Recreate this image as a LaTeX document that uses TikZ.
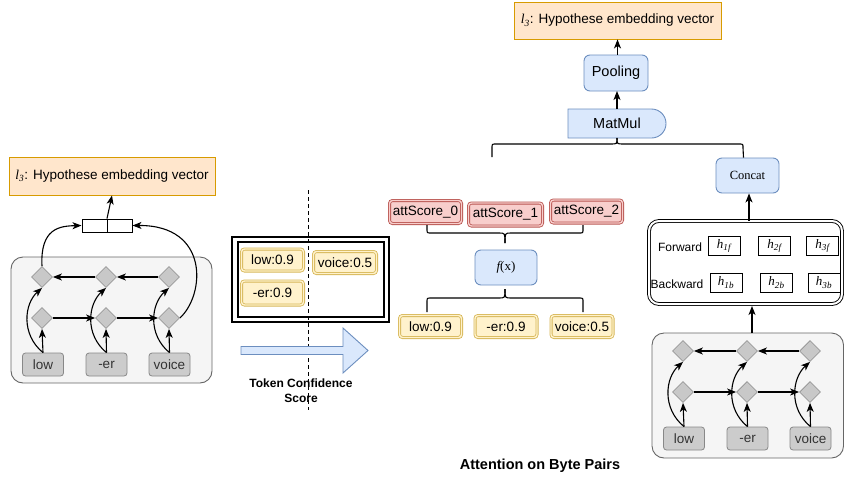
\documentclass[tikz,border=0pt]{standalone}
\usepackage{fontspec}
\setmainfont{Liberation Sans}
\newfontfamily\tnr{Liberation Serif}
\usetikzlibrary{shapes.geometric,arrows.meta}
\newcommand{\fsz}[2]{\fontsize{#1}{#2}\selectfont}
\definecolor{orfill}{HTML}{FFE6CC}
\definecolor{ordraw}{HTML}{D79B00}
\definecolor{blfill}{HTML}{DAE8FC}
\definecolor{bldraw}{HTML}{6C8EBF}
\definecolor{rdfill}{HTML}{F8CECC}
\definecolor{rddraw}{HTML}{B85450}
\definecolor{ylfill}{HTML}{FFF2CC}
\definecolor{yldraw}{HTML}{D6B656}
\definecolor{gyfill}{HTML}{F5F5F5}
\definecolor{gydraw}{HTML}{666666}
\definecolor{dmfill}{HTML}{C8C8C8}
\definecolor{dmdraw}{HTML}{999999}
\definecolor{tkfill}{HTML}{CCCCCC}
\definecolor{tkdraw}{HTML}{888888}
\definecolor{tktext}{HTML}{333333}
\tikzset{
 arr/.style={-{Stealth[length=9pt,width=7pt,inset=2.5pt]}, line width=1.1pt},
 ln/.style={line width=1.1pt},
 orbox/.style={draw=ordraw, fill=orfill, line width=0.9pt, inner sep=0, font=\fsz{13.5}{16}},
 blbox/.style={draw=bldraw, fill=blfill, line width=0.9pt, rounded corners=6, inner sep=0},
 ybox/.style={draw=yldraw, double=ylfill, double distance=1.4pt, fill=ylfill, line width=0.8pt, rounded corners=3, minimum width=62, minimum height=22, inner sep=0, font=\fsz{13.5}{16}},
 rbox/.style={draw=rddraw, double=rdfill, double distance=1.4pt, fill=rdfill, line width=0.8pt, rounded corners=3, minimum width=72, minimum height=23, inner sep=0, font=\fsz{13.5}{16}},
 tok/.style={draw=tkdraw, fill=tkfill, rounded corners=3, minimum width=41, minimum height=23, inner sep=0, line width=0.8pt, text=tktext, font=\fsz{13.5}{16}},
 dia/.style={diamond, draw=dmdraw, fill=dmfill, minimum width=21, minimum height=21, inner sep=0, line width=0.8pt},
 gybox/.style={draw=gydraw, fill=gyfill, rounded corners=12, line width=0.9pt},
 hbox/.style={draw, line width=0.8pt, minimum width=32, minimum height=19, inner sep=0, font=\tnr\itshape\fsz{13}{15}},
 lbl/.style={inner sep=0, font=\fsz{12}{14}},
}
\newcommand{\bilstmblock}[3]{%
\begin{scope}[shift={(#2,#3)}]
 \node[tok] (#1t1) at (43,364.5) {low};
 \node[tok] (#1t2) at (106.5,364.5) {-er};
 \node[tok] (#1t3) at (169.5,364.5) {voice};
 \node[dia] (#1b1) at (42,318) {};
 \node[dia] (#1b2) at (106,318) {};
 \node[dia] (#1b3) at (169,318) {};
 \node[dia] (#1u1) at (42,277) {};
 \node[dia] (#1u2) at (106,277) {};
 \node[dia] (#1u3) at (169,277) {};
 \draw[arr] (#1t1.north) -- (#1b1.south);
 \draw[arr] (#1t2.north) -- (#1b2.south);
 \draw[arr] (#1t3.north) -- (#1b3.south);
 \draw[arr] (#1t1.north) .. controls +(-22,-18) and +(-18,16) .. (#1u1.south);
 \draw[arr] (#1t2.north) .. controls +(-22,-18) and +(-18,16) .. (#1u2.south);
 \draw[arr] (#1t3.north) .. controls +(-22,-18) and +(-18,16) .. (#1u3.south);
 \draw[arr] (#1u3.west) -- (#1u2.east);
 \draw[arr] (#1u2.west) -- (#1u1.east);
 \draw[arr] (#1b1.east) -- (#1b2.west);
 \draw[arr] (#1b2.east) -- (#1b3.west);
\end{scope}}
\begin{document}
\begin{tikzpicture}[x=1pt,y=-1pt]
\useasboundingbox (0,0) rectangle (845,479);
% ---------------- left part
\node[orbox, minimum width=206, minimum height=38] (ltop) at (112,176) {{\tnr\itshape l\textsubscript{3}}: Hypothese embedding vector};
\node[draw, fill=white, line width=1pt, minimum width=50, minimum height=13, inner sep=0] (cc) at (107,225.5) {};
\draw[line width=1pt] (cc.north) -- (cc.south);
\draw[arr] (cc.north) -- (ltop.south);
\draw[gybox] (11,257) rectangle (212,383);
\bilstmblock{l}{0}{0}
\draw[arr] (lu1.north) .. controls (40,228) and (60,226) .. (cc.west);
\draw[arr] (lb3.east) .. controls (205,295) and (210,225) .. (cc.east);
% ---------------- middle left
\coordinate (dtop) at (308,190);
\coordinate (dbot) at (308,410);
\draw[line width=1pt, dash pattern=on 4pt off 3pt] (dtop) -- (dbot);
\draw[line width=1.2pt] (232,237) rectangle (389,322);
\draw[line width=1.2pt] (238,242) rectangle (384,317);
\node[ybox] (s1) at (272.5,260) {low:0.9};
\node[ybox, minimum width=63] (s3) at (345,262.5) {voice:0.5};
\node[ybox, minimum height=24] (s2) at (272.5,293) {-er:0.9};
\draw[draw=bldraw, fill=blfill, line width=0.9pt] (241,346.5) -- (343,346.5) -- (343,328) -- (368,350.5) -- (343,373) -- (343,354.5) -- (241,354.5) -- cycle;
\node[align=center, inner sep=0, font=\bfseries\fsz{12}{15}] (tcs) at (301,390.5) {Token Confidence\\Score};
% ---------------- middle attention
\node[rbox] (a0) at (425.5,212) {attScore\_0};
\node[rbox, minimum width=74] (a1) at (505.5,214.5) {attScore\_1};
\node[rbox] (a2) at (586.5,211.5) {attScore\_2};
\node[blbox, minimum width=62, minimum height=35] (fx) at (506,267.5) {{\tnr\fsz{13}{15}\itshape f}{\tnr\fsz{13}{15}(x)}};
\node[ybox] (c1) at (430.5,326.5) {low:0.9};
\node[ybox] (c2) at (506,326.5) {-er:0.9};
\node[ybox] (c3) at (582,326.5) {voice:0.5};
\coordinate (ub1) at (427,225);
\coordinate (ub2) at (583,225);
\coordinate (ubt) at (505,243);
\draw[ln] (ub1) -- (427,229) .. controls (427,233) .. (431,233) -- (499,233) .. controls (505,233) .. (ubt);
\draw[ln] (ub2) -- (583,229) .. controls (583,233) .. (579,233) -- (511,233) .. controls (505,233) .. (ubt);
\coordinate (lb1) at (427,312);
\coordinate (lb2) at (583,312);
\coordinate (lbt) at (505,289);
\draw[ln] (lb1) -- (427,302) .. controls (427,298) .. (431,298) -- (499,298) .. controls (505,298) .. (lbt);
\draw[ln] (lb2) -- (583,302) .. controls (583,298) .. (579,298) -- (511,298) .. controls (505,298) .. (lbt);
\node[inner sep=0, font=\bfseries\fsz{14.5}{17}] (aob) at (540,466) {Attention on Byte Pairs};
% ---------------- right top
\node[orbox, minimum width=207, minimum height=37] (rtop) at (617.5,20.5) {{\tnr\itshape l\textsubscript{3}}: Hypothese embedding vector};
\node[blbox, minimum width=64, minimum height=36, font=\fsz{14.5}{17}] (pool) at (616,73) {Pooling};
\node[inner sep=0, minimum width=98, minimum height=29, font=\fsz{14.5}{17}] (mm) at (617,123.5) {};
\draw[draw=bldraw, fill=blfill, line width=0.9pt] (568,109) -- (651.5,109) .. controls (659.5,109) and (666,115.5) .. (666,123.5) .. controls (666,131.5) and (659.5,138) .. (651.5,138) -- (568,138) -- cycle;
\node[inner sep=0, font=\fsz{14.5}{17}] at (mm) {MatMul};
\draw[arr] (617,109) -- (617,91);
\draw[arr] (pool.north -| rtop.south) -- (rtop.south);
\node[blbox, minimum width=63, minimum height=35, font=\tnr\fsz{12.5}{15}] (cat) at (747.5,175.5) {Concat};
\coordinate (bl) at (492,157);
\coordinate (bt) at (617,138);
\draw[ln] (bl) -- (492,148) .. controls (492,144) .. (496,144) -- (611,144) .. controls (617,144) .. (bt);
\draw[ln] ([xshift=-4pt]cat.north) -- (743,148) .. controls (743,144) .. (739,144) -- (623,144) .. controls (617,144) .. (bt);
% ---------------- right hidden states
\node[draw, double, double distance=2pt, line width=0.9pt, rounded corners=10, minimum width=193, minimum height=83, inner sep=0] (hb) at (745.5,262.5) {};
\node[lbl] (fw) at (680,247) {Forward};
\node[lbl] (bw) at (677,284) {Backward};
\node[hbox] (h1f) at (724,246) {h\textsubscript{1f}};
\node[hbox] (h2f) at (774.5,246) {h\textsubscript{2f}};
\node[hbox] (h3f) at (822.5,246) {h\textsubscript{3f}};
\node[hbox] (h1b) at (726,282.5) {h\textsubscript{1b}};
\node[hbox] (h2b) at (776.5,282.5) {h\textsubscript{2b}};
\node[hbox] (h3b) at (824,282.5) {h\textsubscript{3b}};
\draw[arr] ([xshift=3.5pt]hb.north) -- ([xshift=3.5pt]hb.north |- cat.south);
\draw[gybox] (652,333) rectangle (843.5,458);
\bilstmblock{r}{641}{74}
\coordinate (rgt) at (752,333);
\draw[arr] (rgt) -- (752,306);
\end{tikzpicture}
\end{document}
